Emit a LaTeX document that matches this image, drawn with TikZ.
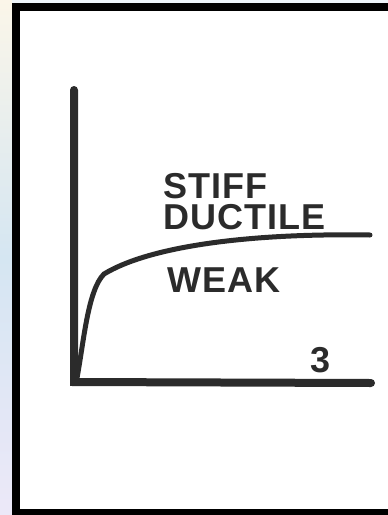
\documentclass[tikz,border=0pt]{standalone}
\usepackage{fontspec}
\setmainfont{Liberation Sans}
\newfontfamily\handfont[LetterSpace=3]{Liberation Sans}
\usepackage{tikz,xcolor}
\definecolor{ink}{HTML}{2B2B2B}
\definecolor{cream}{HTML}{FBF6E9}
\definecolor{paleblue}{HTML}{D5E6F2}
\definecolor{lavender}{HTML}{ECE8F8}
\tikzset{
  % style for the hand drawn axes
  axis line/.style={ink, line width=8pt, line cap=round},
  % style for the stress strain curve
  curve line/.style={ink, line width=5pt, line cap=round},
  % style for the lettering
  letters/.style={ink, anchor=west, inner sep=0pt, align=left,
    font=\handfont\fontsize{36}{31}\selectfont\bfseries},
}
\begin{document}
\begin{tikzpicture}[x=1pt,y=-1pt]
  \useasboundingbox (0,0) rectangle (388,515);
  % Draw the background strip and the frame
  \shade[top color=cream, bottom color=lavender, middle color=paleblue] (0,0) rectangle (12,515);
  \fill[paleblue!40] (12,0) rectangle (388,3);
  \fill[black] (12,3) rectangle (388,515);
  \fill[white] (20,11) rectangle (388,509);
  % Draw the axes
  \coordinate (origin) at (74,382);
  \coordinate (ytop) at (74,90);
  \coordinate (xend) at (371,383);
  \draw[axis line] (ytop) -- (origin) -- (xend);
  % Draw the curve
  \coordinate (knee) at (104,274);
  \coordinate (tail) at (370,235);
  \draw[curve line] (77,378) .. controls (84,340) and (88,290) .. (knee)
    .. controls (150,246) and (250,233) .. (tail);
  % Labels
  \node[letters] (stiffductile) at (163,202) {STIFF\\DUCTILE};
  \node[letters] (weak) at (167,280) {WEAK};
  \node[letters] (three) at (310,360) {3};
\end{tikzpicture}
\end{document}
